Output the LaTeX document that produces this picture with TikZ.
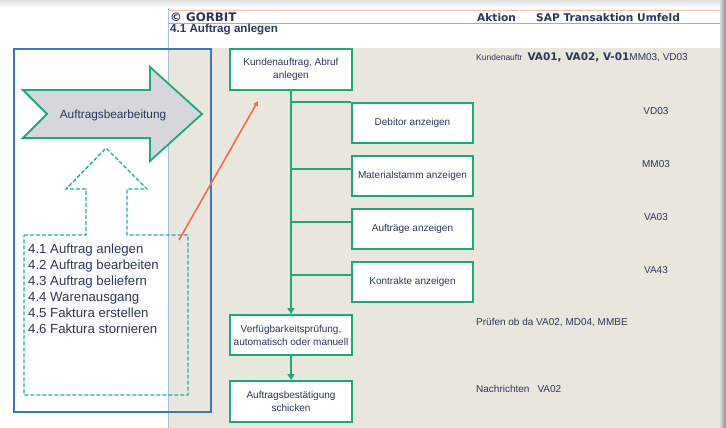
\documentclass[tikz,border=0pt]{standalone}
\usepackage{fontspec}
\setmainfont{Liberation Sans}
\newfontfamily\verd{DejaVu Sans}
\usetikzlibrary{arrows.meta,calc}
\definecolor{beige}{RGB}{232,230,221}
\definecolor{gline}{RGB}{28,170,120}
\definecolor{dline}{RGB}{30,175,170}
\definecolor{bline}{RGB}{60,120,190}
\definecolor{lblue}{RGB}{160,195,225}
\definecolor{navy}{RGB}{45,55,90}
\definecolor{orng}{RGB}{242,110,75}
\definecolor{salmon}{RGB}{235,150,130}
\definecolor{afill}{RGB}{214,214,220}
\tikzset{
  gbox/.style={draw=gline, line width=1.8pt, fill=white, text=navy, align=center,
    inner sep=1pt, font=\fontsize{10}{13}\selectfont},
  wbox/.style={gbox, minimum width=121pt, minimum height=40pt},
  conn/.style={draw=gline, line width=1.8pt},
  rtext/.style={anchor=west, inner sep=0pt, text=navy, font=\fontsize{10}{12}\selectfont},
  ctext/.style={inner sep=0pt, text=navy, font=\fontsize{10}{12}\selectfont},
  ltext/.style={anchor=base west, inner sep=0pt, text=navy, font=\fontsize{13.2}{16}\selectfont},
  htext/.style={anchor=west, inner sep=0pt, text=navy, font=\verd\bfseries\fontsize{10.6}{12}\selectfont},
}
\begin{document}
\begin{tikzpicture}[x=1pt,y=-1pt]
\useasboundingbox (0,0) rectangle (726,428);
% background
\fill[white] (0,0) rectangle (726,428);
\shade[top color=black!12, bottom color=white] (0,0) rectangle (726,8);
\fill[beige] (168,48) rectangle (720,428);
\shade[left color=black!15, right color=black!45] (720,0) rectangle (726,428);
\draw[lblue, line width=0.6pt] (168,8) -- (168,428);
\draw[salmon!60, line width=0.5pt] (168,10) -- (720,10);
\draw[salmon, line width=0.6pt] (168,23) -- (720,23);
% header
\node[htext, font=\verd\bfseries\fontsize{11.8}{13}\selectfont] (gorbit) at (170,17) {© GORBIT};
\node[htext] (aktion) at (477,18) {Aktion};
\node[htext] (sap) at (536,18) {SAP Transaktion Umfeld};
\node[anchor=west, inner sep=0pt, text=navy, font=\bfseries\fontsize{11.6}{13}\selectfont] (title) at (170,29.5) {4.1 Auftrag anlegen};
% blue box
\draw[bline, line width=1.5pt] (14,49) rectangle (211,412);
% big arrow
\draw[gline, line width=1.8pt, fill=afill, line join=miter]
  (23,90) -- (150,90) -- (150,67) -- (202,114) -- (150,161) -- (150,138) -- (23,138) -- (47,114) -- cycle;
\node[ctext, font=\fontsize{11.8}{13}\selectfont] (ab) at (113,115.5) {Auftragsbearbeitung};
% dashed up arrow + box
\draw[dline, line width=1.4pt, dashed, dash pattern=on 4pt off 2pt]
  (24,235) -- (86,235) -- (86,189) -- (66,189) -- (106,148) -- (147,189) -- (127,189) -- (127,235)
  -- (188,235) -- (188,395) -- (24,395) -- cycle;
\node[ltext] (l1) at (28,253) {4.1 Auftrag anlegen};
\node[ltext] (l2) at (28,269) {4.2 Auftrag bearbeiten};
\node[ltext] (l3) at (28,285) {4.3 Auftrag beliefern};
\node[ltext] (l4) at (28,301) {4.4 Warenausgang};
\node[ltext] (l5) at (28,317) {4.5 Faktura erstellen};
\node[ltext] (l6) at (28,333) {4.6 Faktura stornieren};
% boxes
\node[gbox, minimum width=122pt, minimum height=41pt] (k) at (291,69.5) {Kundenauftrag, Abruf\\anlegen};
\node[wbox] (deb) at (412.5,123) {Debitor anzeigen};
\node[wbox] (mat) at (412.5,176) {Materialstamm anzeigen};
\node[wbox] (auf) at (412.5,229) {Aufträge anzeigen};
\node[wbox] (kon) at (412.5,282) {Kontrakte anzeigen};
\node[gbox, minimum width=122pt, minimum height=40pt] (ver) at (291,335) {Verfügbarkeitsprüfung,\\automatisch oder manuell};
\node[gbox, minimum width=122pt, minimum height=41pt] (best) at (291,401.5) {Auftragsbestätigung\\schicken};
% connectors
\draw[conn, -{Triangle[width=7pt,length=6pt]}] (k.south) -- (ver.north);
\draw[conn, -{Triangle[width=7pt,length=6pt]}] (ver.south) -- (best.north);
\coordinate (debp) at ($(deb.north west)!0.0!(deb.south west)$);
\coordinate (matp) at ($(mat.north west)!0.33!(mat.south west)$);
\coordinate (aufp) at ($(auf.north west)!0.33!(auf.south west)$);
\coordinate (konp) at ($(kon.north west)!0.33!(kon.south west)$);
\draw[conn] (k.south |- debp) -- (debp);
\draw[conn] (k.south |- matp) -- (matp);
\draw[conn] (k.south |- aufp) -- (aufp);
\draw[conn] (k.south |- konp) -- (konp);
% orange arrow
\coordinate (os) at (179,240);
\coordinate (oe) at (258,101);
\draw[orng, line width=1.6pt, -{Triangle[width=5pt,length=5pt]}] (os) -- (oe);
% right texts
\node[rtext] (kd) at (476,57) {{\fontsize{8.5}{10}\selectfont Kundenauftr}\hspace{5pt}{\verd\bfseries\fontsize{10.5}{12}\selectfont VA01, VA02, V-01}{\fontsize{10}{12}\selectfont MM03, VD03}};
\node[ctext] (t1) at (656,111) {VD03};
\node[ctext] (t2) at (656,164) {MM03};
\node[ctext] (t3) at (656,217) {VA03};
\node[ctext] (t4) at (656,270) {VA43};
\node[rtext] (t5) at (476,323) {Prüfen ob da VA02, MD04, MMBE};
\node[rtext] (t6) at (476,389) {Nachrichten\hspace{8pt}VA02};
\end{tikzpicture}
\end{document}
